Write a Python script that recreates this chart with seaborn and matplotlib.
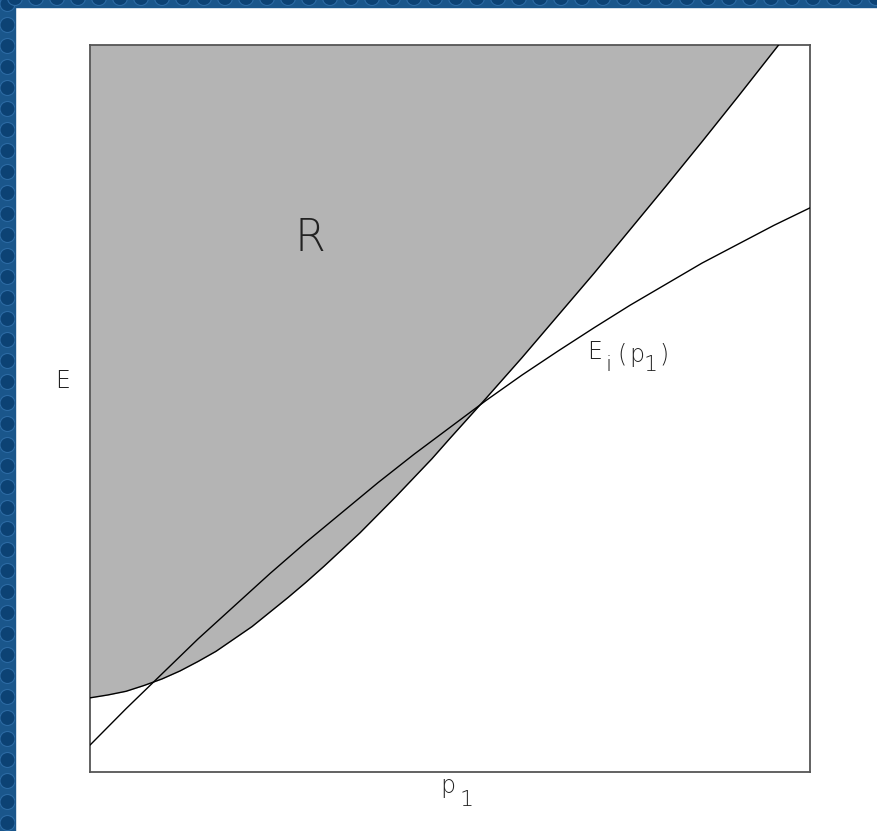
import numpy as np
import pandas as pd
import matplotlib
matplotlib.use("Agg")
import matplotlib.pyplot as plt
from matplotlib.patches import Rectangle, Circle
import seaborn as sns

# momentum grid for the lower boundary of the allowed region R (axis runs 0..1)
p1_r = [0.000, 0.025, 0.050, 0.075, 0.100, 0.125, 0.150, 0.175, 0.200, 0.225,
        0.250, 0.275, 0.300, 0.325, 0.350, 0.375, 0.400, 0.425, 0.450, 0.475,
        0.500, 0.550, 0.600, 0.650, 0.700, 0.750, 0.800, 0.850, 0.900, 0.950, 1.000]
boundary = [0.102, 0.106, 0.111, 0.119, 0.128, 0.139, 0.152, 0.166, 0.183, 0.200,
            0.220, 0.240, 0.261, 0.283, 0.306, 0.329, 0.354, 0.379, 0.405, 0.431,
            0.459, 0.514, 0.570, 0.628, 0.686, 0.746, 0.806, 0.867, 0.929, 0.992, 1.055]

# energy curve E_i(p1)
p1_e = [0.00, 0.05, 0.10, 0.15, 0.20, 0.25, 0.30, 0.35, 0.40, 0.45, 0.50,
        0.55, 0.60, 0.65, 0.70, 0.75, 0.80, 0.85, 0.90, 0.95, 1.00]
e_i = [0.037, 0.087, 0.135, 0.183, 0.228, 0.273, 0.316, 0.357, 0.398, 0.437, 0.474,
       0.511, 0.546, 0.579, 0.611, 0.642, 0.671, 0.700, 0.726, 0.752, 0.776]

region = pd.DataFrame({"p1": p1_r, "E": boundary})
curve = pd.DataFrame({"p1": p1_e, "E": e_i})

sns.set_theme(style="white")
plt.rcParams["font.family"] = ["DejaVu Sans"]
plt.rcParams["mathtext.default"] = "regular"

W, H = 878, 831
fig = plt.figure(figsize=(W / 100, H / 100), dpi=100)
fig.patch.set_facecolor("white")

# patterned blue frame on the left and top edges
base, disc, rim = "#1a568b", "#0c4274", "#2c6aa3"
strips = [Rectangle((0, 0), 15 / W, 1, transform=fig.transFigure, color=base, zorder=0),
          Rectangle((0, 1 - 7 / H), 1, 7 / H, transform=fig.transFigure, color=base, zorder=0)]
for r in strips:
    fig.patches.append(r)
for k in range(45):
    cy = (H - (4 + 21 * k)) / 100
    c = Circle((7.5 / 100, cy), 7.5 / 100, transform=fig.dpi_scale_trans,
               facecolor=disc, edgecolor=rim, lw=0.8, zorder=1)
    c.set_clip_path(strips[0])
    fig.patches.append(c)
for k in range(45):
    cx = (15 + 21 * k) / 100
    c = Circle((cx, (H + 2) / 100), 7.5 / 100, transform=fig.dpi_scale_trans,
               facecolor=disc, edgecolor=rim, lw=0.8, zorder=1)
    c.set_clip_path(strips[1])
    fig.patches.append(c)

ax = fig.add_axes([90 / W, 1 - 772 / H, 720 / W, 727 / H])
ax.set_xlim(0, 1)
ax.set_ylim(0, 1)

ax.fill_between(region["p1"], region["E"], 1.2, color="#b4b4b4", lw=0, zorder=1)
sns.lineplot(data=region, x="p1", y="E", ax=ax, color="black", lw=1.0,
             estimator=None, sort=False, zorder=3)
sns.lineplot(data=curve, x="p1", y="E", ax=ax, color="black", lw=1.0,
             estimator=None, sort=False, zorder=3)

ax.set_xticks([])
ax.set_yticks([])
ax.set_xlabel("")
ax.set_ylabel("")
for s in ax.spines.values():
    s.set_visible(True)
    s.set_color("#555555")
    s.set_linewidth(1.3)

txt = dict(color="#222222", fontweight="light")


def put(s, x, y, size=17):
    # place a glyph run by its left edge / baseline, in figure pixels from top-left
    fig.text(x / 100, (H - y) / 100, s, fontsize=size, ha="left", va="baseline",
             transform=fig.dpi_scale_trans, **txt)


ax.text(0.3056, 0.7166, "R", fontsize=32, ha="center", va="baseline", **txt)
ax.text(-0.0375, 0.528, "E", fontsize=17, ha="center", va="baseline",
        transform=ax.transAxes, **txt)

# E_i(p_1) label with full-size, dropped subscripts
put("E", 587, 359)
put("i", 606, 371, 16)
put("(", 617, 362)
put("p", 629, 362)
put("1", 644, 371, 16)
put(")", 659, 362)

# axis label p_1
put("p", 440, 793)
put("1", 460, 806, 16)

fig.savefig("out.png", dpi=100)
